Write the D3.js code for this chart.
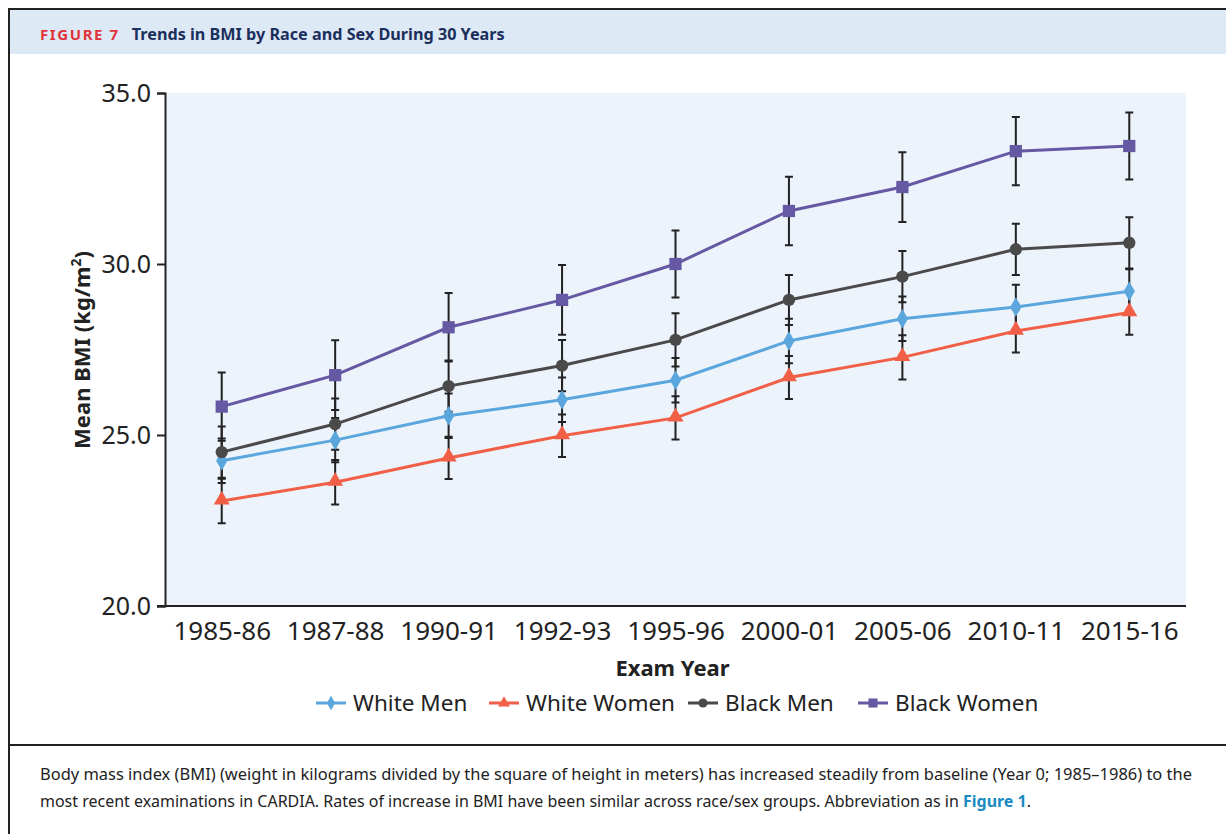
<!DOCTYPE html>
<html>
<head>
  <meta charset="utf-8">
  <title>Trends in BMI</title>
  <style>
    body { margin: 0; background: #fff; }
    svg text { font-family: "Noto Sans", "Open Sans", sans-serif; }
  </style>
</head>
<body>
  <script src="https://d3js.org/d3.v7.min.js"></script>
  <script>
    var years = ['1985-86', '1987-88', '1990-91', '1992-93', '1995-96', '2000-01', '2005-06', '2010-11', '2015-16'];
    var whiteMen = [24.25, 24.85, 25.56, 26.03, 26.6, 27.75, 28.4, 28.74, 29.2];
    var whiteWomen = [23.07, 23.62, 24.33, 24.98, 25.5, 26.68, 27.27, 28.04, 28.58];
    var blackMen = [24.5, 25.32, 26.43, 27.03, 27.78, 28.95, 29.63, 30.43, 30.62];
    var blackWomen = [25.83, 26.75, 28.15, 28.95, 30.0, 31.55, 32.25, 33.3, 33.45];
    var whiteMenErr = [0.65, 0.65, 0.65, 0.65, 0.65, 0.65, 0.65, 0.65, 0.65];
    var whiteWomenErr = [0.65, 0.65, 0.62, 0.62, 0.63, 0.63, 0.65, 0.63, 0.65];
    var blackMenErr = [0.75, 0.75, 0.75, 0.75, 0.78, 0.73, 0.75, 0.75, 0.75];
    var blackWomenErr = [1.0, 1.02, 1.0, 1.02, 0.98, 1.0, 1.02, 1.0, 0.98];
    var yTicks = [20, 25, 30, 35];

    var series = [
      { name: 'White Men', values: whiteMen, err: whiteMenErr, color: '#5aa6dd', shape: d3.symbolDiamond, size: 110 },
      { name: 'White Women', values: whiteWomen, err: whiteWomenErr, color: '#f15f46', shape: d3.symbolTriangle, size: 110 },
      { name: 'Black Men', values: blackMen, err: blackMenErr, color: '#4a4a4a', shape: d3.symbolCircle, size: 120 },
      { name: 'Black Women', values: blackWomen, err: blackWomenErr, color: '#6559a3', shape: d3.symbolSquare, size: 150 }
    ];

    var W = 1226, H = 834;
    var mLeft = 165, mRight = 1186, mTop = 93, mBottom = 606;

    var svg = d3.select('body').append('svg')
      .attr('width', W).attr('height', H);

    // frame + header
    svg.append('rect').attr('x', 9).attr('y', 9).attr('width', W).attr('height', 45)
      .attr('fill', '#dee9f6');
    svg.append('path').attr('d', 'M9,' + H + 'V9H' + W)
      .attr('fill', 'none').attr('stroke', '#222').attr('stroke-width', 2);
    svg.append('line').attr('x1', 9).attr('x2', W).attr('y1', 745).attr('y2', 745)
      .attr('stroke', '#222').attr('stroke-width', 2);

    var head = svg.append('text').attr('x', 40).attr('y', 40);
    head.append('tspan').text('FIGURE 7').attr('fill', '#e2323a')
      .style('font-weight', 'bold').style('font-size', '15px').style('letter-spacing', '1.6px');
    head.append('tspan').text('Trends in BMI by Race and Sex During 30 Years').attr('dx', 12)
      .attr('fill', '#1b2f5c').style('font-weight', 'bold').style('font-size', '16.2px');

    var x = d3.scalePoint().domain(years).range([mLeft, mRight]).padding(0.5);
    var y = d3.scaleLinear().domain([20, 35]).range([mBottom, mTop]);

    svg.append('rect').attr('x', mLeft).attr('y', mTop)
      .attr('width', mRight - mLeft).attr('height', mBottom - mTop).attr('fill', '#ecf3fb');

    // axes
    var ya = svg.append('g').attr('transform', 'translate(' + mLeft + ',0)')
      .call(d3.axisLeft(y).tickValues(yTicks).tickFormat(d3.format('.1f')).tickSize(8).tickPadding(6));
    ya.select('.domain').attr('stroke', '#222').attr('stroke-width', 2);
    ya.selectAll('.tick line').attr('stroke', '#222').attr('stroke-width', 2);
    ya.selectAll('.tick text').style('font-size', '25px').attr('fill', '#222');

    var xa = svg.append('g').attr('transform', 'translate(0,' + mBottom + ')')
      .call(d3.axisBottom(x).tickSize(0).tickPadding(16));
    xa.select('.domain').attr('d', 'M' + (mLeft - 8) + ',0H' + mRight).attr('stroke', '#222').attr('stroke-width', 2);
    xa.selectAll('.tick text').style('font-size', '26px').attr('fill', '#222');

    svg.append('text').attr('x', (mLeft + mRight) / 2 - 3).attr('y', 676).attr('text-anchor', 'middle')
      .style('font-size', '22px').style('font-weight', 'bold').attr('fill', '#222').text('Exam Year');

    var yt = svg.append('text').attr('transform', 'translate(90,350) rotate(-90)')
      .attr('text-anchor', 'middle').style('font-size', '22px').style('font-weight', 'bold').attr('fill', '#222');
    yt.append('tspan').text('Mean BMI (kg/m');
    yt.append('tspan').text('2').style('font-size', '14px').attr('dy', -9);
    yt.append('tspan').text(')').attr('dy', 9);

    // error bars
    var eb = svg.append('g').attr('stroke', '#222').attr('stroke-width', 2);
    series.forEach(function (s) {
      s.values.forEach(function (v, i) {
        var cx = x(years[i]), y0 = y(v - s.err[i]), y1 = y(v + s.err[i]);
        eb.append('path').attr('d', 'M' + cx + ',' + y0 + 'V' + y1 +
          'M' + (cx - 4) + ',' + y0 + 'H' + (cx + 4) + 'M' + (cx - 4) + ',' + y1 + 'H' + (cx + 4));
      });
    });

    var line = d3.line().x(function (d, i) { return x(years[i]); }).y(function (d) { return y(d); });

    series.forEach(function (s) {
      svg.append('path').datum(s.values).attr('d', line)
        .attr('fill', 'none').attr('stroke', s.color).attr('stroke-width', 3);
      svg.append('g').selectAll('path').data(s.values).enter().append('path')
        .attr('d', d3.symbol().type(s.shape).size(s.size))
        .attr('transform', function (d, i) {
          return 'translate(' + x(years[i]) + ',' + (y(d) + (s.shape === d3.symbolTriangle ? -1 : 0)) + ')';
        })
        .attr('fill', s.color);
    });

    // legend
    var legX = [316, 489, 688, 858];
    var leg = svg.append('g');
    series.forEach(function (s, i) {
      var g = leg.append('g').attr('transform', 'translate(' + legX[i] + ',703)');
      g.append('line').attr('x1', 0).attr('x2', 30).attr('stroke', s.color).attr('stroke-width', 3);
      g.append('path').attr('d', d3.symbol().type(s.shape).size(s.size * 0.55)).attr('transform', 'translate(15,0)').attr('fill', s.color);
      g.append('text').attr('x', 37).attr('y', 8).text(s.name)
        .style('font-size', '22.5px').attr('fill', '#222');
    });

    // caption
    var cap = svg.append('g').style('font-size', '15.5px').attr('fill', '#222');
    cap.append('text').attr('x', 40).attr('y', 780)
      .attr('textLength', 1152).attr('lengthAdjust', 'spacingAndGlyphs')
      .text('Body mass index (BMI) (weight in kilograms divided by the square of height in meters) has increased steadily from baseline (Year 0; 1985\u20131986) to the');
    var c2 = cap.append('text').attr('x', 40).attr('y', 807)
      .attr('textLength', 991).attr('lengthAdjust', 'spacingAndGlyphs');
    c2.append('tspan').text('most recent examinations in CARDIA. Rates of increase in BMI have been similar across race/sex groups. Abbreviation as in ');
    c2.append('tspan').text('Figure 1').attr('fill', '#1a8bc1').style('font-weight', 'bold');
    c2.append('tspan').text('.');
  </script>
</body>
</html>
